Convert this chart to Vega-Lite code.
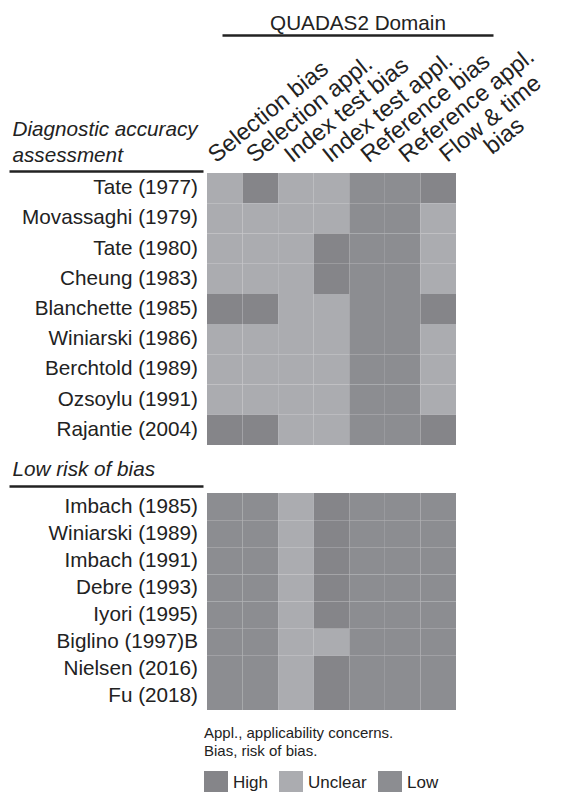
{
  "$schema": "https://vega.github.io/schema/vega-lite/v6.json",
  "padding": {"left": 9, "top": 12, "right": 0, "bottom": 0},
  "background": "white",
  "config": {
    "view": {"stroke": null},
    "font": "Liberation Sans",
    "axis": {"labelColor": "#222222", "titleColor": "#222222"},
    "legend": {"labelColor": "#222222", "titleColor": "#222222"}
  },
  "datasets": {
    "g1": [
      {"study": "Tate (1977)", "domain": "Selection bias", "rating": "Unclear"},
      {"study": "Tate (1977)", "domain": "Selection appl.", "rating": "High"},
      {"study": "Tate (1977)", "domain": "Index test bias", "rating": "Unclear"},
      {"study": "Tate (1977)", "domain": "Index test appl.", "rating": "Unclear"},
      {"study": "Tate (1977)", "domain": "Reference bias", "rating": "Low"},
      {"study": "Tate (1977)", "domain": "Reference appl.", "rating": "Low"},
      {"study": "Tate (1977)", "domain": "Flow & time bias", "rating": "High"},
      {"study": "Movassaghi (1979)", "domain": "Selection bias", "rating": "Unclear"},
      {"study": "Movassaghi (1979)", "domain": "Selection appl.", "rating": "Unclear"},
      {"study": "Movassaghi (1979)", "domain": "Index test bias", "rating": "Unclear"},
      {"study": "Movassaghi (1979)", "domain": "Index test appl.", "rating": "Unclear"},
      {"study": "Movassaghi (1979)", "domain": "Reference bias", "rating": "Low"},
      {"study": "Movassaghi (1979)", "domain": "Reference appl.", "rating": "Low"},
      {"study": "Movassaghi (1979)", "domain": "Flow & time bias", "rating": "Unclear"},
      {"study": "Tate (1980)", "domain": "Selection bias", "rating": "Unclear"},
      {"study": "Tate (1980)", "domain": "Selection appl.", "rating": "Unclear"},
      {"study": "Tate (1980)", "domain": "Index test bias", "rating": "Unclear"},
      {"study": "Tate (1980)", "domain": "Index test appl.", "rating": "High"},
      {"study": "Tate (1980)", "domain": "Reference bias", "rating": "Low"},
      {"study": "Tate (1980)", "domain": "Reference appl.", "rating": "Low"},
      {"study": "Tate (1980)", "domain": "Flow & time bias", "rating": "Unclear"},
      {"study": "Cheung (1983)", "domain": "Selection bias", "rating": "Unclear"},
      {"study": "Cheung (1983)", "domain": "Selection appl.", "rating": "Unclear"},
      {"study": "Cheung (1983)", "domain": "Index test bias", "rating": "Unclear"},
      {"study": "Cheung (1983)", "domain": "Index test appl.", "rating": "High"},
      {"study": "Cheung (1983)", "domain": "Reference bias", "rating": "Low"},
      {"study": "Cheung (1983)", "domain": "Reference appl.", "rating": "Low"},
      {"study": "Cheung (1983)", "domain": "Flow & time bias", "rating": "Unclear"},
      {"study": "Blanchette (1985)", "domain": "Selection bias", "rating": "High"},
      {"study": "Blanchette (1985)", "domain": "Selection appl.", "rating": "High"},
      {"study": "Blanchette (1985)", "domain": "Index test bias", "rating": "Unclear"},
      {"study": "Blanchette (1985)", "domain": "Index test appl.", "rating": "Unclear"},
      {"study": "Blanchette (1985)", "domain": "Reference bias", "rating": "Low"},
      {"study": "Blanchette (1985)", "domain": "Reference appl.", "rating": "Low"},
      {"study": "Blanchette (1985)", "domain": "Flow & time bias", "rating": "High"},
      {"study": "Winiarski (1986)", "domain": "Selection bias", "rating": "Unclear"},
      {"study": "Winiarski (1986)", "domain": "Selection appl.", "rating": "Unclear"},
      {"study": "Winiarski (1986)", "domain": "Index test bias", "rating": "Unclear"},
      {"study": "Winiarski (1986)", "domain": "Index test appl.", "rating": "Unclear"},
      {"study": "Winiarski (1986)", "domain": "Reference bias", "rating": "Low"},
      {"study": "Winiarski (1986)", "domain": "Reference appl.", "rating": "Low"},
      {"study": "Winiarski (1986)", "domain": "Flow & time bias", "rating": "Unclear"},
      {"study": "Berchtold (1989)", "domain": "Selection bias", "rating": "Unclear"},
      {"study": "Berchtold (1989)", "domain": "Selection appl.", "rating": "Unclear"},
      {"study": "Berchtold (1989)", "domain": "Index test bias", "rating": "Unclear"},
      {"study": "Berchtold (1989)", "domain": "Index test appl.", "rating": "Unclear"},
      {"study": "Berchtold (1989)", "domain": "Reference bias", "rating": "Low"},
      {"study": "Berchtold (1989)", "domain": "Reference appl.", "rating": "Low"},
      {"study": "Berchtold (1989)", "domain": "Flow & time bias", "rating": "Unclear"},
      {"study": "Ozsoylu (1991)", "domain": "Selection bias", "rating": "Unclear"},
      {"study": "Ozsoylu (1991)", "domain": "Selection appl.", "rating": "Unclear"},
      {"study": "Ozsoylu (1991)", "domain": "Index test bias", "rating": "Unclear"},
      {"study": "Ozsoylu (1991)", "domain": "Index test appl.", "rating": "Unclear"},
      {"study": "Ozsoylu (1991)", "domain": "Reference bias", "rating": "Low"},
      {"study": "Ozsoylu (1991)", "domain": "Reference appl.", "rating": "Low"},
      {"study": "Ozsoylu (1991)", "domain": "Flow & time bias", "rating": "Unclear"},
      {"study": "Rajantie (2004)", "domain": "Selection bias", "rating": "High"},
      {"study": "Rajantie (2004)", "domain": "Selection appl.", "rating": "High"},
      {"study": "Rajantie (2004)", "domain": "Index test bias", "rating": "Unclear"},
      {"study": "Rajantie (2004)", "domain": "Index test appl.", "rating": "Unclear"},
      {"study": "Rajantie (2004)", "domain": "Reference bias", "rating": "Low"},
      {"study": "Rajantie (2004)", "domain": "Reference appl.", "rating": "Low"},
      {"study": "Rajantie (2004)", "domain": "Flow & time bias", "rating": "High"}
    ],
    "g2": [
      {"study": "Imbach (1985)", "domain": "Selection bias", "rating": "Low"},
      {"study": "Imbach (1985)", "domain": "Selection appl.", "rating": "Low"},
      {"study": "Imbach (1985)", "domain": "Index test bias", "rating": "Unclear"},
      {"study": "Imbach (1985)", "domain": "Index test appl.", "rating": "High"},
      {"study": "Imbach (1985)", "domain": "Reference bias", "rating": "Low"},
      {"study": "Imbach (1985)", "domain": "Reference appl.", "rating": "Low"},
      {"study": "Imbach (1985)", "domain": "Flow & time bias", "rating": "Low"},
      {"study": "Winiarski (1989)", "domain": "Selection bias", "rating": "Low"},
      {"study": "Winiarski (1989)", "domain": "Selection appl.", "rating": "Low"},
      {"study": "Winiarski (1989)", "domain": "Index test bias", "rating": "Unclear"},
      {"study": "Winiarski (1989)", "domain": "Index test appl.", "rating": "High"},
      {"study": "Winiarski (1989)", "domain": "Reference bias", "rating": "Low"},
      {"study": "Winiarski (1989)", "domain": "Reference appl.", "rating": "Low"},
      {"study": "Winiarski (1989)", "domain": "Flow & time bias", "rating": "Low"},
      {"study": "Imbach (1991)", "domain": "Selection bias", "rating": "Low"},
      {"study": "Imbach (1991)", "domain": "Selection appl.", "rating": "Low"},
      {"study": "Imbach (1991)", "domain": "Index test bias", "rating": "Unclear"},
      {"study": "Imbach (1991)", "domain": "Index test appl.", "rating": "High"},
      {"study": "Imbach (1991)", "domain": "Reference bias", "rating": "Low"},
      {"study": "Imbach (1991)", "domain": "Reference appl.", "rating": "Low"},
      {"study": "Imbach (1991)", "domain": "Flow & time bias", "rating": "Low"},
      {"study": "Debre (1993)", "domain": "Selection bias", "rating": "Low"},
      {"study": "Debre (1993)", "domain": "Selection appl.", "rating": "Low"},
      {"study": "Debre (1993)", "domain": "Index test bias", "rating": "Unclear"},
      {"study": "Debre (1993)", "domain": "Index test appl.", "rating": "High"},
      {"study": "Debre (1993)", "domain": "Reference bias", "rating": "Low"},
      {"study": "Debre (1993)", "domain": "Reference appl.", "rating": "Low"},
      {"study": "Debre (1993)", "domain": "Flow & time bias", "rating": "Low"},
      {"study": "Iyori (1995)", "domain": "Selection bias", "rating": "Low"},
      {"study": "Iyori (1995)", "domain": "Selection appl.", "rating": "Low"},
      {"study": "Iyori (1995)", "domain": "Index test bias", "rating": "Unclear"},
      {"study": "Iyori (1995)", "domain": "Index test appl.", "rating": "High"},
      {"study": "Iyori (1995)", "domain": "Reference bias", "rating": "Low"},
      {"study": "Iyori (1995)", "domain": "Reference appl.", "rating": "Low"},
      {"study": "Iyori (1995)", "domain": "Flow & time bias", "rating": "Low"},
      {"study": "Biglino (1997)B", "domain": "Selection bias", "rating": "Low"},
      {"study": "Biglino (1997)B", "domain": "Selection appl.", "rating": "Low"},
      {"study": "Biglino (1997)B", "domain": "Index test bias", "rating": "Unclear"},
      {"study": "Biglino (1997)B", "domain": "Index test appl.", "rating": "Unclear"},
      {"study": "Biglino (1997)B", "domain": "Reference bias", "rating": "Low"},
      {"study": "Biglino (1997)B", "domain": "Reference appl.", "rating": "Low"},
      {"study": "Biglino (1997)B", "domain": "Flow & time bias", "rating": "Low"},
      {"study": "Nielsen (2016)", "domain": "Selection bias", "rating": "Low"},
      {"study": "Nielsen (2016)", "domain": "Selection appl.", "rating": "Low"},
      {"study": "Nielsen (2016)", "domain": "Index test bias", "rating": "Unclear"},
      {"study": "Nielsen (2016)", "domain": "Index test appl.", "rating": "High"},
      {"study": "Nielsen (2016)", "domain": "Reference bias", "rating": "Low"},
      {"study": "Nielsen (2016)", "domain": "Reference appl.", "rating": "Low"},
      {"study": "Nielsen (2016)", "domain": "Flow & time bias", "rating": "Low"},
      {"study": "Fu (2018)", "domain": "Selection bias", "rating": "Low"},
      {"study": "Fu (2018)", "domain": "Selection appl.", "rating": "Low"},
      {"study": "Fu (2018)", "domain": "Index test bias", "rating": "Unclear"},
      {"study": "Fu (2018)", "domain": "Index test appl.", "rating": "High"},
      {"study": "Fu (2018)", "domain": "Reference bias", "rating": "Low"},
      {"study": "Fu (2018)", "domain": "Reference appl.", "rating": "Low"},
      {"study": "Fu (2018)", "domain": "Flow & time bias", "rating": "Low"}
    ]
  },
  "columns": 2,
  "bounds": "flush",
  "spacing": {"row": 48, "column": 4},
  "resolve": {"legend": {"color": "independent"}},
  "concat": [
    {
      "width": 194,
      "height": 272,
      "data": {"name": "g1"},
      "transform": [{"filter": "datum.domain === 'Selection bias'"}],
      "mark": {"type": "text", "align": "right", "baseline": "middle", "fontSize": 20.7, "dx": -5, "color": "#222222"},
      "encoding": {
        "y": {"field": "study", "type": "nominal", "sort": null, "scale": {"paddingInner": 0, "paddingOuter": 0}, "axis": null},
        "x": {"datum": 1, "type": "quantitative", "scale": {"domain": [0, 1]},
          "axis": {"orient": "top", "offset": 2, "labels": false, "ticks": false, "grid": false, "domain": true,
            "domainColor": "#222222", "domainWidth": 2.5,
            "title": ["Diagnostic accuracy", "assessment"], "titleFontStyle": "italic", "titleFontWeight": "normal",
            "titleFontSize": 20.7, "titleAlign": "left", "titleAnchor": "start", "titleX": 3, "titleY": -36,
            "titleBaseline": "alphabetic", "titleLineHeight": 26.6}},
        "text": {"field": "study"}
      }
    },
    {
      "width": 249,
      "height": 272,
      "data": {"name": "g1"},
      "encoding": {
        "y": {"field": "study", "type": "nominal", "sort": null, "scale": {"paddingInner": 0, "paddingOuter": 0}, "axis": null}
      },
      "layer": [
        {
          "mark": {"type": "rect"},
          "encoding": {
            "x": {"field": "domain", "type": "nominal",
              "sort": ["Selection bias", "Selection appl.", "Index test bias", "Index test appl.", "Reference bias", "Reference appl.", "Flow & time bias"],
              "scale": {"paddingInner": 0, "paddingOuter": 0}, "axis": null},
            "color": {"field": "rating", "type": "nominal",
              "scale": {"domain": ["High", "Unclear", "Low"], "range": ["#858589", "#abacb0", "#8c8d91"]},
              "legend": null}
          }
        },
        {
          "mark": {"type": "rect", "opacity": 0},
          "encoding": {
            "x": {"field": "domain", "type": "nominal",
              "sort": ["Selection bias", "Selection appl.", "Index test bias", "Index test appl.", "Reference bias", "Reference appl.", "Flow & time bias"],
              "scale": {"range": [0, 267], "paddingInner": 0, "paddingOuter": 0},
              "axis": {"orient": "top", "title": null, "ticks": false, "domain": false, "grid": false,
                "labelAngle": -39, "labelFontSize": 23.5, "labelLimit": 0, "labelOverlap": false, "labelBound": false,
                "labelExpr": "datum.value === 'Flow & time bias' ? ['Flow & time', 'bias'] : datum.label",
                "labelAlign": {"condition": {"test": "datum.value === 'Flow & time bias'", "value": "center"}, "value": "left"},
                "labelOffset": {"condition": {"test": "datum.value === 'Flow & time bias'", "value": 40}, "value": -10},
                "labelPadding": {"condition": {"test": "datum.value === 'Flow & time bias'", "value": 49}, "value": 10},
                "labelBaseline": "alphabetic", "labelLineHeight": 22}}
          }
        },
        {
          "mark": {"type": "rect", "opacity": 0},
          "encoding": {
            "x": {"field": "domain", "type": "nominal",
              "sort": ["Selection bias", "Selection appl.", "Index test bias", "Index test appl.", "Reference bias", "Reference appl.", "Flow & time bias"],
              "scale": {"range": [15, 286], "paddingInner": 0, "paddingOuter": 0},
              "axis": {"orient": "top", "offset": 138, "labels": false, "ticks": false, "grid": false, "domain": true,
                "domainColor": "#222222", "domainWidth": 2.5, "title": "QUADAS2 Domain", "titleFontSize": 20.7,
                "titleFontWeight": "normal", "titlePadding": 2}}
          }
        }
      ],
      "resolve": {"scale": {"x": "independent"}, "axis": {"x": "independent"}}
    },
    {
      "width": 194,
      "height": 217,
      "data": {"name": "g2"},
      "transform": [{"filter": "datum.domain === 'Selection bias'"}],
      "mark": {"type": "text", "align": "right", "baseline": "middle", "fontSize": 20.7, "dx": -5, "color": "#222222"},
      "encoding": {
        "y": {"field": "study", "type": "nominal", "sort": null, "scale": {"paddingInner": 0, "paddingOuter": 0}, "axis": null},
        "x": {"datum": 1, "type": "quantitative", "scale": {"domain": [0, 1]},
          "axis": {"orient": "top", "offset": 7, "labels": false, "ticks": false, "grid": false, "domain": true,
            "domainColor": "#222222", "domainWidth": 2.5,
            "title": "Low risk of bias", "titleFontStyle": "italic", "titleFontWeight": "normal",
            "titleFontSize": 20.7, "titleAlign": "left", "titleAnchor": "start", "titleX": 3, "titleY": -11,
            "titleBaseline": "alphabetic"}},
        "text": {"field": "study"}
      }
    },
    {
      "width": 249,
      "height": 217,
      "data": {"name": "g2"},
      "mark": {"type": "rect"},
      "encoding": {
        "x": {"field": "domain", "type": "nominal",
          "sort": ["Selection bias", "Selection appl.", "Index test bias", "Index test appl.", "Reference bias", "Reference appl.", "Flow & time bias"],
          "scale": {"paddingInner": 0, "paddingOuter": 0}, "axis": null},
        "y": {"field": "study", "type": "nominal", "sort": null, "scale": {"paddingInner": 0, "paddingOuter": 0}, "axis": null},
        "color": {"field": "rating", "type": "nominal",
          "scale": {"domain": ["High", "Unclear", "Low"], "range": ["#858589", "#abacb0", "#8c8d91"]},
          "legend": {"orient": "none", "legendX": -3, "legendY": 233, "direction": "horizontal", "columns": 3,
            "title": ["Appl., applicability concerns.", "Bias, risk of bias."], "titleLimit": 0,
            "titleFontSize": 15, "titleFontWeight": "normal", "titleLineHeight": 18, "titlePadding": 12, "titleAnchor": "start",
            "symbolType": "square", "symbolSize": 576, "symbolStrokeWidth": 0, "symbolOpacity": 1,
            "labelFontSize": 17, "labelOffset": 5, "columnPadding": 11}}
      }
    }
  ]
}
